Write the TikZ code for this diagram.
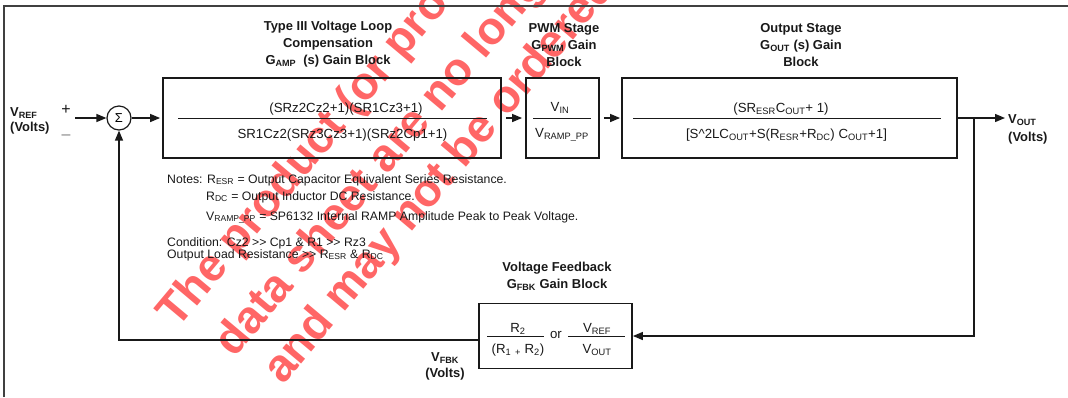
\documentclass[tikz,border=0pt]{standalone}
\usepackage{fontspec}
\setmainfont{Liberation Sans}
\usetikzlibrary{arrows.meta}
\newcommand{\lo}[1]{\textsubscript{#1}}
\newcommand{\much}{>\kern0pt>}

\begin{document}
\begin{tikzpicture}[x=1bp,y=-1bp,
  gbox/.style={draw=black!90,line width=1.8bp,inner sep=0},
  sig/.style={draw=black!90,line width=1.4bp,-{Triangle[length=10bp,width=8bp]}},
  frac/.style={draw=black!90,line width=0.9bp},
  ttl/.style={font=\fontsize{13}{17}\selectfont\bfseries,align=center,inner sep=0,text=black!90},
  txt/.style={font=\fontsize{13.3}{16}\selectfont,inner sep=0,text=black!90,anchor=base},
  note/.style={font=\fontsize{12.3}{15}\selectfont,inner sep=0,text=black!90,anchor=base west},
  wm/.style={font=\fontsize{46}{50}\selectfont\bfseries,text=red!60,rotate=50,anchor=base west,inner sep=0}]

  \useasboundingbox (0,0) rectangle (1068,397);
  \begin{scope}
    \clip (0,0) rectangle (1068,397);
    \node[wm] (wm1) at (177,330) {The product (or products) on this};
    \node[wm] (wm2) at (234,359) {data sheet are no longer available};
    \node[wm] (wm3) at (283,386) {and may not be ordered.};
  \end{scope}
  \draw[line width=1.4bp,black!75] (4,397) -- (4,6) -- (1068,6);

  \node[gbox,minimum width=338bp,minimum height=80bp] (amp) at (332,118) {};
  \node[gbox,minimum width=73bp,minimum height=80bp] (pwm) at (562.5,118) {};
  \node[gbox,minimum width=335bp,minimum height=80bp] (out) at (789.5,118) {};
  \node[gbox,minimum width=153bp,minimum height=65bp] (fbk) at (555.5,336) {};
  \node[circle,draw=black!90,line width=1.2bp,minimum size=24bp,inner sep=0] (sum) at (119,118) {\fontsize{13}{13}\selectfont Σ};

  \node[ttl] (amptitle) at (328,44) {Type III Voltage Loop\\Compensation\\G\lo{AMP}\ \ (s) Gain Block};
  \node[ttl] (pwmtitle) at (564,45) {PWM Stage\\G\lo{PWM} Gain\\Block};
  \node[ttl] (outtitle) at (801,45) {Output Stage\\G\lo{OUT} (s) Gain\\Block};
  \node[ttl] (fbktitle) at (557,276) {Voltage Feedback\\G\lo{FBK} Gain Block};

  \node[txt] (ampnum) at (346,112) {(SRz2Cz2+1)(SR1Cz3+1)};
  \node[txt] (ampden) at (342.5,138) {SR1Cz2(SRz3Cz3+1)(SRz2Cp1+1)};
  \draw[frac] (178,118) -- (487,118);

  \node[txt] (pwmnum) at (560,111) {V\lo{IN}};
  \node[txt] (pwmden) at (562,137) {V\lo{RAMP\_PP}};
  \draw[frac] (533,118) -- (591,118);

  \node[txt] (outnum) at (781,112) {(SR\lo{ESR}C\lo{OUT}+ 1)};
  \node[txt] (outden) at (786.5,138) {[S\textasciicircum 2LC\lo{OUT}+S(R\lo{ESR}+R\lo{DC}) C\lo{OUT}+1]};
  \draw[frac] (633,118) -- (941,118);

  \node[txt] (fbknum) at (518,332) {R\lo{2}};
  \node[txt] (fbkden) at (518,353) {(R\lo{1} \lo{+} R\lo{2})};
  \draw[frac] (487,336) -- (544,336);
  \node[txt] (fbkor) at (556,338) {or};
  \node[txt] (refnum) at (597,332) {V\lo{REF}};
  \node[txt] (refden) at (597,353) {V\lo{OUT}};
  \draw[frac] (568,336) -- (625,336);

  \node[note] (note1) at (167,183) {Notes: R\lo{ESR} = Output Capacitor Equivalent Series Resistance.};
  \node[note] (note2) at (206,200) {R\lo{DC} = Output Inductor DC Resistance.};
  \node[note] (note3) at (206,220) {V\lo{RAMP\_PP} = SP6132 Internal RAMP Amplitude Peak to Peak Voltage.};
  \node[note] (note4) at (167,246) {Condition: Cz2 \much{} Cp1 \& R1 \much{} Rz3};
  \node[note] (note5) at (167,258) {Output Load Resistance \much{} R\lo{ESR} \& R\lo{DC}};

  \node[ttl,align=left,anchor=west,font=\fontsize{13}{15}\selectfont\bfseries] (vref) at (10,121) {V\lo{REF}\\(Volts)};
  \node[ttl,align=left,anchor=west,font=\fontsize{13}{18}\selectfont\bfseries] (voutlbl) at (1008,129) {V\lo{OUT}\\(Volts)};
  \node[ttl,font=\fontsize{13}{16}\selectfont\bfseries] (vfbk) at (445,366) {V\lo{FBK}\\(Volts)};
  \node[ttl,font=\fontsize{16}{16}\selectfont] (plus) at (66,110) {+};
  \node[ttl,font=\fontsize{16}{16}\selectfont,text=black!50] (minus) at (66,137) {–};

  \coordinate (refin) at (75,118);
  \coordinate (tap) at (974,118);
  \coordinate (vout) at (1005,118);
  \draw[sig] (refin) -- (sum);
  \draw[sig,shorten >=2bp] (sum) -- (amp);
  \draw[sig,shorten <=4bp,shorten >=3bp] (amp) -- (pwm);
  \draw[sig,shorten <=4bp,shorten >=1bp] (pwm) -- (out);
  \draw[sig] (out) -- (vout);
  \draw[sig] (tap) |- (fbk.east);
  \draw[sig] ([yshift=-4bp]fbk.west) -| (sum);
\end{tikzpicture}
\end{document}
